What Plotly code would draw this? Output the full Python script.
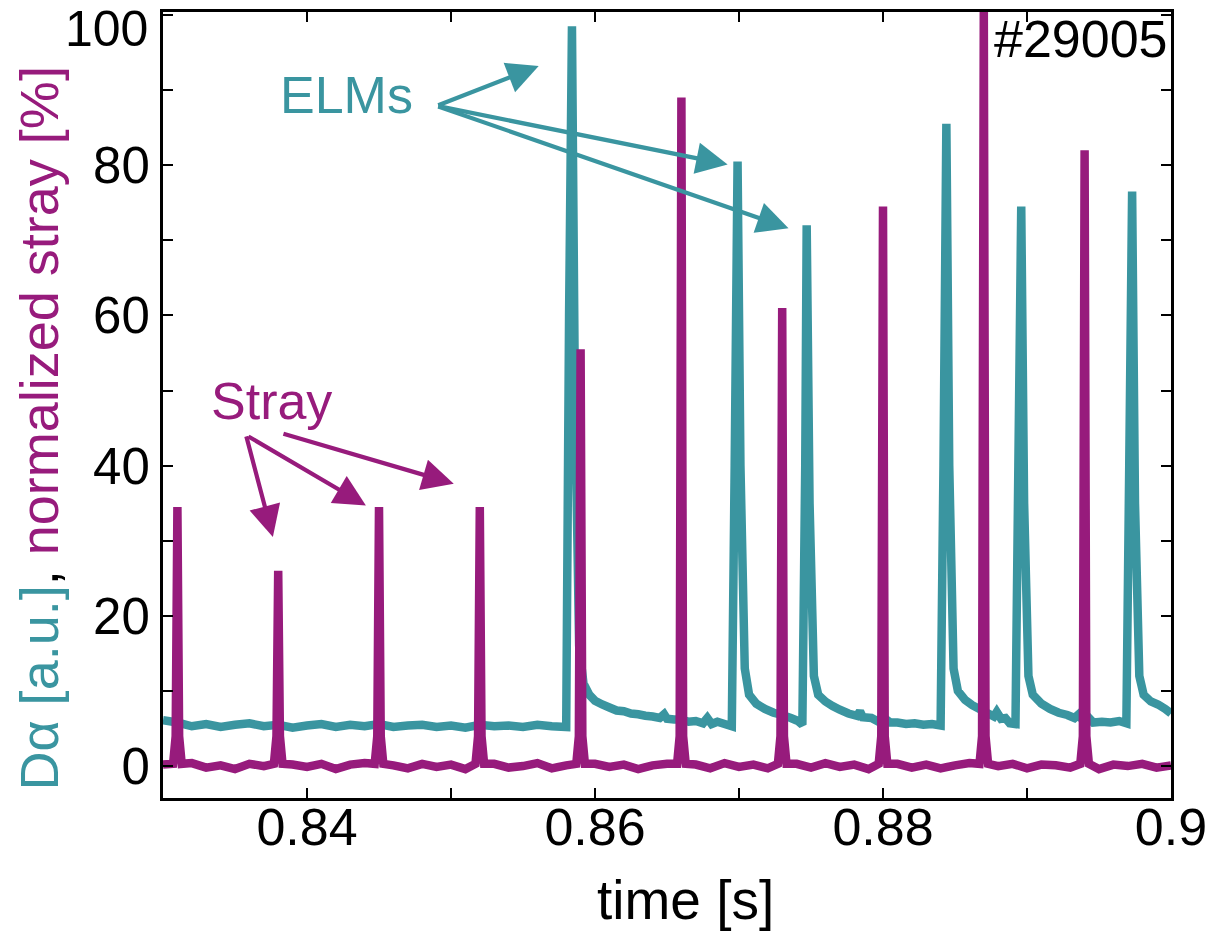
import plotly.graph_objects as go

# ---- D-alpha signal (a.u.): time [s] and value ----
da_t = [
    0.830, 0.831, 0.832, 0.833, 0.834, 0.835, 0.836, 0.837, 0.838, 0.839,
    0.840, 0.841, 0.842, 0.843, 0.844, 0.845, 0.846, 0.847, 0.848, 0.849,
    0.850, 0.851, 0.852, 0.853, 0.854, 0.855, 0.856, 0.857, 0.8580,
    0.8582, 0.8584, 0.8586, 0.8589, 0.8592, 0.8596, 0.8600, 0.8605, 0.8610, 0.8615,
    0.8620, 0.8625, 0.8630, 0.8635, 0.8640, 0.8645, 0.8648, 0.8650, 0.8655, 0.8660,
    0.8665, 0.8670, 0.8675, 0.8678, 0.8681, 0.8685, 0.8690, 0.8695,
    0.8697, 0.8699, 0.8701, 0.8704, 0.8707, 0.8712, 0.8718, 0.8724, 0.8730, 0.8736,
    0.8741, 0.8744,
    0.8746, 0.8747, 0.8749, 0.8752, 0.8755, 0.8760, 0.8765, 0.8770, 0.8776, 0.8782,
    0.8784, 0.8786, 0.8792, 0.8796, 0.8800, 0.8805, 0.8810, 0.8816, 0.8822, 0.8828,
    0.8834, 0.8840,
    0.8842, 0.8844, 0.8846, 0.8849, 0.8852, 0.8857, 0.8862, 0.8868, 0.8873, 0.8877,
    0.8879, 0.8882, 0.8885, 0.8888, 0.8892,
    0.8894, 0.8896, 0.8898, 0.8901, 0.8904, 0.8910, 0.8916, 0.8922, 0.8928, 0.8933,
    0.8936, 0.8939, 0.8942, 0.8946, 0.8952, 0.8958, 0.8964, 0.8969,
    0.8971, 0.8973, 0.8975, 0.8978, 0.8981, 0.8986, 0.8991, 0.8996, 0.9000,
]
da_v = [
    6.1, 5.8, 5.3, 5.6, 5.2, 5.5, 5.7, 5.3, 5.5, 5.1,
    5.4, 5.6, 5.2, 5.5, 5.3, 5.6, 5.2, 5.4, 5.5, 5.2,
    5.4, 5.1, 5.5, 5.3, 5.4, 5.2, 5.5, 5.3, 5.2,
    60.0, 98.5, 50.0, 16.0, 11.0, 9.5, 8.7, 8.2, 7.8, 7.4,
    7.3, 7.0, 6.9, 6.7, 6.6, 6.4, 6.9, 6.3, 6.2, 6.2,
    5.9, 6.0, 5.7, 6.4, 5.6, 5.9, 5.6, 5.3,
    40.0, 80.5, 40.0, 13.0, 9.5, 8.3, 7.6, 7.1, 6.8, 6.4,
    6.0, 5.5,
    40.0, 72.0, 35.0, 12.0, 9.5, 8.6, 8.0, 7.5, 7.0, 6.7,
    7.3, 6.5, 6.4, 6.0, 6.5, 5.8, 5.8, 5.6, 5.7, 5.5,
    5.6, 5.4,
    40.0, 85.5, 40.0, 13.0, 10.0, 8.8, 8.1, 7.5, 7.0, 6.6,
    7.2, 6.3, 6.4, 5.7, 5.6,
    40.0, 74.5, 35.0, 12.0, 9.5, 8.3, 7.6, 7.1, 6.8, 6.4,
    6.9, 6.0, 6.6, 5.8, 5.9, 5.8, 6.0, 5.7,
    40.0, 76.5, 35.0, 12.0, 9.5, 8.6, 8.2, 7.6, 7.0,
]

# ---- normalized stray signal (%): baseline samples and spikes ----
stray_base_t = [round(0.830 + 0.001 * i, 3) for i in range(71)]
stray_base_v = [
    0.2, -0.3, 0.4, -0.2, 0.1, -0.4, 0.3, 0.0, -0.3, 0.2,
    -0.1, 0.3, -0.4, 0.2, 0.4, -0.2, 0.1, -0.3, 0.3, -0.1,
    0.2, -0.4, 0.1, 0.3, -0.2, 0.0, 0.4, -0.3, 0.1, -0.2,
    0.3, -0.1, 0.2, -0.4, 0.1, 0.3, -0.2, 0.2, -0.3, 0.4,
    -0.1, 0.2, -0.3, 0.1, 0.3, -0.2, 0.4, -0.1, 0.2, -0.4,
    0.1, 0.3, -0.2, 0.2, -0.3, 0.1, 0.4, -0.2, 0.0, 0.3,
    -0.3, 0.2, 0.1, -0.2, 0.3, -0.4, 0.2, 0.0, 0.3, -0.2,
    0.1,
]
stray_spike_t = [0.8310, 0.8380, 0.8450, 0.8520, 0.8590,
                 0.8660, 0.8730, 0.8800, 0.8870, 0.8940]
stray_spike_peak = [34.5, 26.0, 34.5, 34.5, 55.5,
                    89.0, 61.0, 74.5, 101.0, 82.0]

# axis ticks
x_ticks = [0.84, 0.86, 0.88, 0.90]
x_tick_text = ["0.84", "0.86", "0.88", "0.9"]
y_ticks = [0, 20, 40, 60, 80, 100]
y_tick_text = ["0", "20", "40", "60", "80", "100"]

TEAL = "#3a95a0"
MAGENTA = "#971b7c"
FONT = "Liberation Sans, Arial, sans-serif"

# assemble the stray trace: baseline samples away from spikes, plus spike outlines
pts = []
for t, v in zip(stray_base_t, stray_base_v):
    if all(abs(t - s) > 0.00035 for s in stray_spike_t):
        pts.append((t, v))
for s, p in zip(stray_spike_t, stray_spike_peak):
    pts += [(s - 0.0003, 0.3), (s - 0.00012, 4.0), (s, p),
            (s + 0.00012, 4.0), (s + 0.0003, 0.3)]
pts.sort()
stray_t = [p[0] for p in pts]
stray_v = [p[1] for p in pts]

fig = go.Figure()
fig.add_trace(go.Scatter(x=da_t, y=da_v, mode="lines",
                         line=dict(color=TEAL, width=8.5, simplify=False),
                         showlegend=False))
fig.add_trace(go.Scatter(x=stray_t, y=stray_v, mode="lines",
                         line=dict(color=MAGENTA, width=8.5, simplify=False),
                         showlegend=False))

ann = []
# labels
ann.append(dict(x=0.84277, y=89.3, text="ELMs", showarrow=False,
                font=dict(family=FONT, size=52, color=TEAL),
                xanchor="center", yanchor="middle"))
ann.append(dict(x=0.83756, y=48.6, text="Stray", showarrow=False,
                font=dict(family=FONT, size=52, color=MAGENTA),
                xanchor="center", yanchor="middle"))
ann.append(dict(x=0.89375, y=96.8, text="#29005", showarrow=False,
                font=dict(family=FONT, size=52, color="black"),
                xanchor="center", yanchor="middle"))

# arrows: (tail_t, tail_v, tip_t, tip_v)
elm_arrows = [(0.84901, 87.9, 0.85609, 93.2),
              (0.84901, 87.9, 0.86921, 80.1),
              (0.84901, 87.9, 0.87344, 71.6)]
stray_arrows = [(0.83576, 44.1, 0.83763, 30.5),
                (0.83583, 44.0, 0.84409, 34.7),
                (0.83826, 44.3, 0.85019, 37.6)]
for arrows, col in ((elm_arrows, TEAL), (stray_arrows, MAGENTA)):
    for at, av, ht, hv in arrows:
        ann.append(dict(x=ht, y=hv, ax=at, ay=av, xref="x", yref="y",
                        axref="x", ayref="y", text="", showarrow=True,
                        arrowhead=2, arrowsize=1.5, arrowwidth=4.2,
                        arrowcolor=col))

# the top y tick label is placed from the page's top edge so it stays on the page
ann.append(dict(xref="paper", yref="paper", x=(149 - 163) / 1008,
                y=798 / 786, text=y_tick_text[-1], showarrow=False,
                xanchor="right", yanchor="top", borderpad=0,
                font=dict(family=FONT, size=50, color="black")))

# y-axis title in two colours
ann.append(dict(
    xref="paper", yref="paper", x=-0.123, y=0.470,
    text=(f"<span style='color:{TEAL}'>D\u03b1 [a.u.]</span>, "
          f"<span style='color:{MAGENTA}'>normalized stray [%]</span>"),
    textangle=-90, showarrow=False, xanchor="center", yanchor="middle",
    font=dict(family=FONT, size=54, color="black")))

# x-axis title
ann.append(dict(
    xref="paper", yref="paper", x=(685 - 163) / 1008, y=-(900 - 798) / 786,
    text="time [s]", showarrow=False, xanchor="center", yanchor="middle",
    font=dict(family=FONT, size=55, color="black")))

fig.update_layout(
    width=1220, height=936,
    margin=dict(l=163, r=49, t=12, b=138, autoexpand=False),
    paper_bgcolor="white", plot_bgcolor="white",
    annotations=ann,
    xaxis=dict(
        range=[0.83, 0.90], tickvals=x_ticks, ticktext=x_tick_text,
        ticks="inside", ticklen=10, tickwidth=1.5, tickcolor="black",
        minor=dict(dtick=0.01, tick0=0.83, ticks="inside", ticklen=10, tickwidth=1.5, tickcolor="black"),
        showline=True, linewidth=3, linecolor="black", mirror="ticks",
        showgrid=False, zeroline=False, ticklabelstandoff=-18,
        ticklabeloverflow="allow", automargin=False,
        tickfont=dict(family=FONT, size=52, color="black"),
    ),
    yaxis=dict(
        range=[-4.25, 100.4], tickvals=y_ticks,
        ticktext=y_tick_text[:-1] + [""],
        ticks="inside", ticklen=10, tickwidth=1.5, tickcolor="black",
        minor=dict(dtick=10, tick0=0, ticks="inside", ticklen=10, tickwidth=1.5, tickcolor="black"),
        showline=True, linewidth=3, linecolor="black", mirror="ticks",
        showgrid=False, zeroline=False, ticklabeloverflow="allow",
        automargin=False,
        tickfont=dict(family=FONT, size=51, color="black"),
    ),
)

fig.write_html("out.html")
